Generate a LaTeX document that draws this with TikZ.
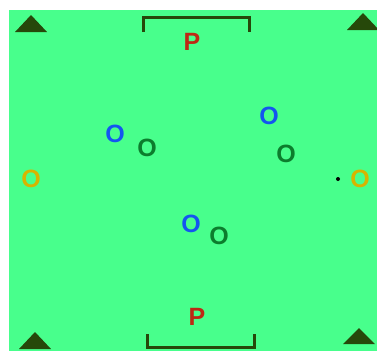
\documentclass[tikz,border=0pt]{standalone}
\usepackage{fontspec}
\setmainfont{Liberation Sans}
\definecolor{pitch}{RGB}{72,255,140}
\definecolor{darkcone}{RGB}{38,72,10}
\definecolor{pblue}{RGB}{20,85,240}
\definecolor{pgreen}{RGB}{12,125,45}
\definecolor{pyellow}{RGB}{215,180,0}
\definecolor{pred}{RGB}{190,40,20}
\tikzset{
	player/.style={inner sep=0pt, font=\fontsize{25}{25}\selectfont\bfseries},
	marker/.style={fill=darkcone},
	goal/.style={draw=darkcone, line width=3pt}
}
\begin{document}
\begin{tikzpicture}[x=1pt, y=-1pt]
			\useasboundingbox (0, 0) rectangle (377, 351);
			\fill[color=pitch] (9, 10) rectangle (377, 351);

			\fill[marker] (15, 32) -- (31, 15) -- (47, 32) -- cycle;
			\fill[marker] (347, 30) -- (363, 13) -- (379, 30) -- cycle;
			\fill[marker] (19, 349) -- (35, 332) -- (51, 349) -- cycle;
			\fill[marker] (343, 344) -- (359, 328) -- (375, 344) -- cycle;

			\draw[goal] (143, 32) -- (143, 17) -- (249, 17) -- (249, 32);
			\draw[goal] (147, 334) -- (147, 347) -- (254, 347) -- (254, 334);

			\node[player, text=pred] (p1) at (192, 42) {P};
			\node[player, text=pred] (p2) at (197, 317) {P};

			\node[player, text=pblue] (b1) at (115, 134) {O};
			\node[player, text=pblue] (b2) at (269, 116) {O};
			\node[player, text=pblue] (b3) at (191, 224) {O};

			\node[player, text=pgreen] (g1) at (147, 148) {O};
			\node[player, text=pgreen] (g2) at (286, 154) {O};
			\node[player, text=pgreen] (g3) at (219, 236) {O};

			\node[player, text=pyellow] (y1) at (31, 179) {O};
			\node[player, text=pyellow] (y2) at (360, 179) {O};

			\fill[color=black] (338, 179) circle (2pt);
		\end{tikzpicture}
\end{document}
